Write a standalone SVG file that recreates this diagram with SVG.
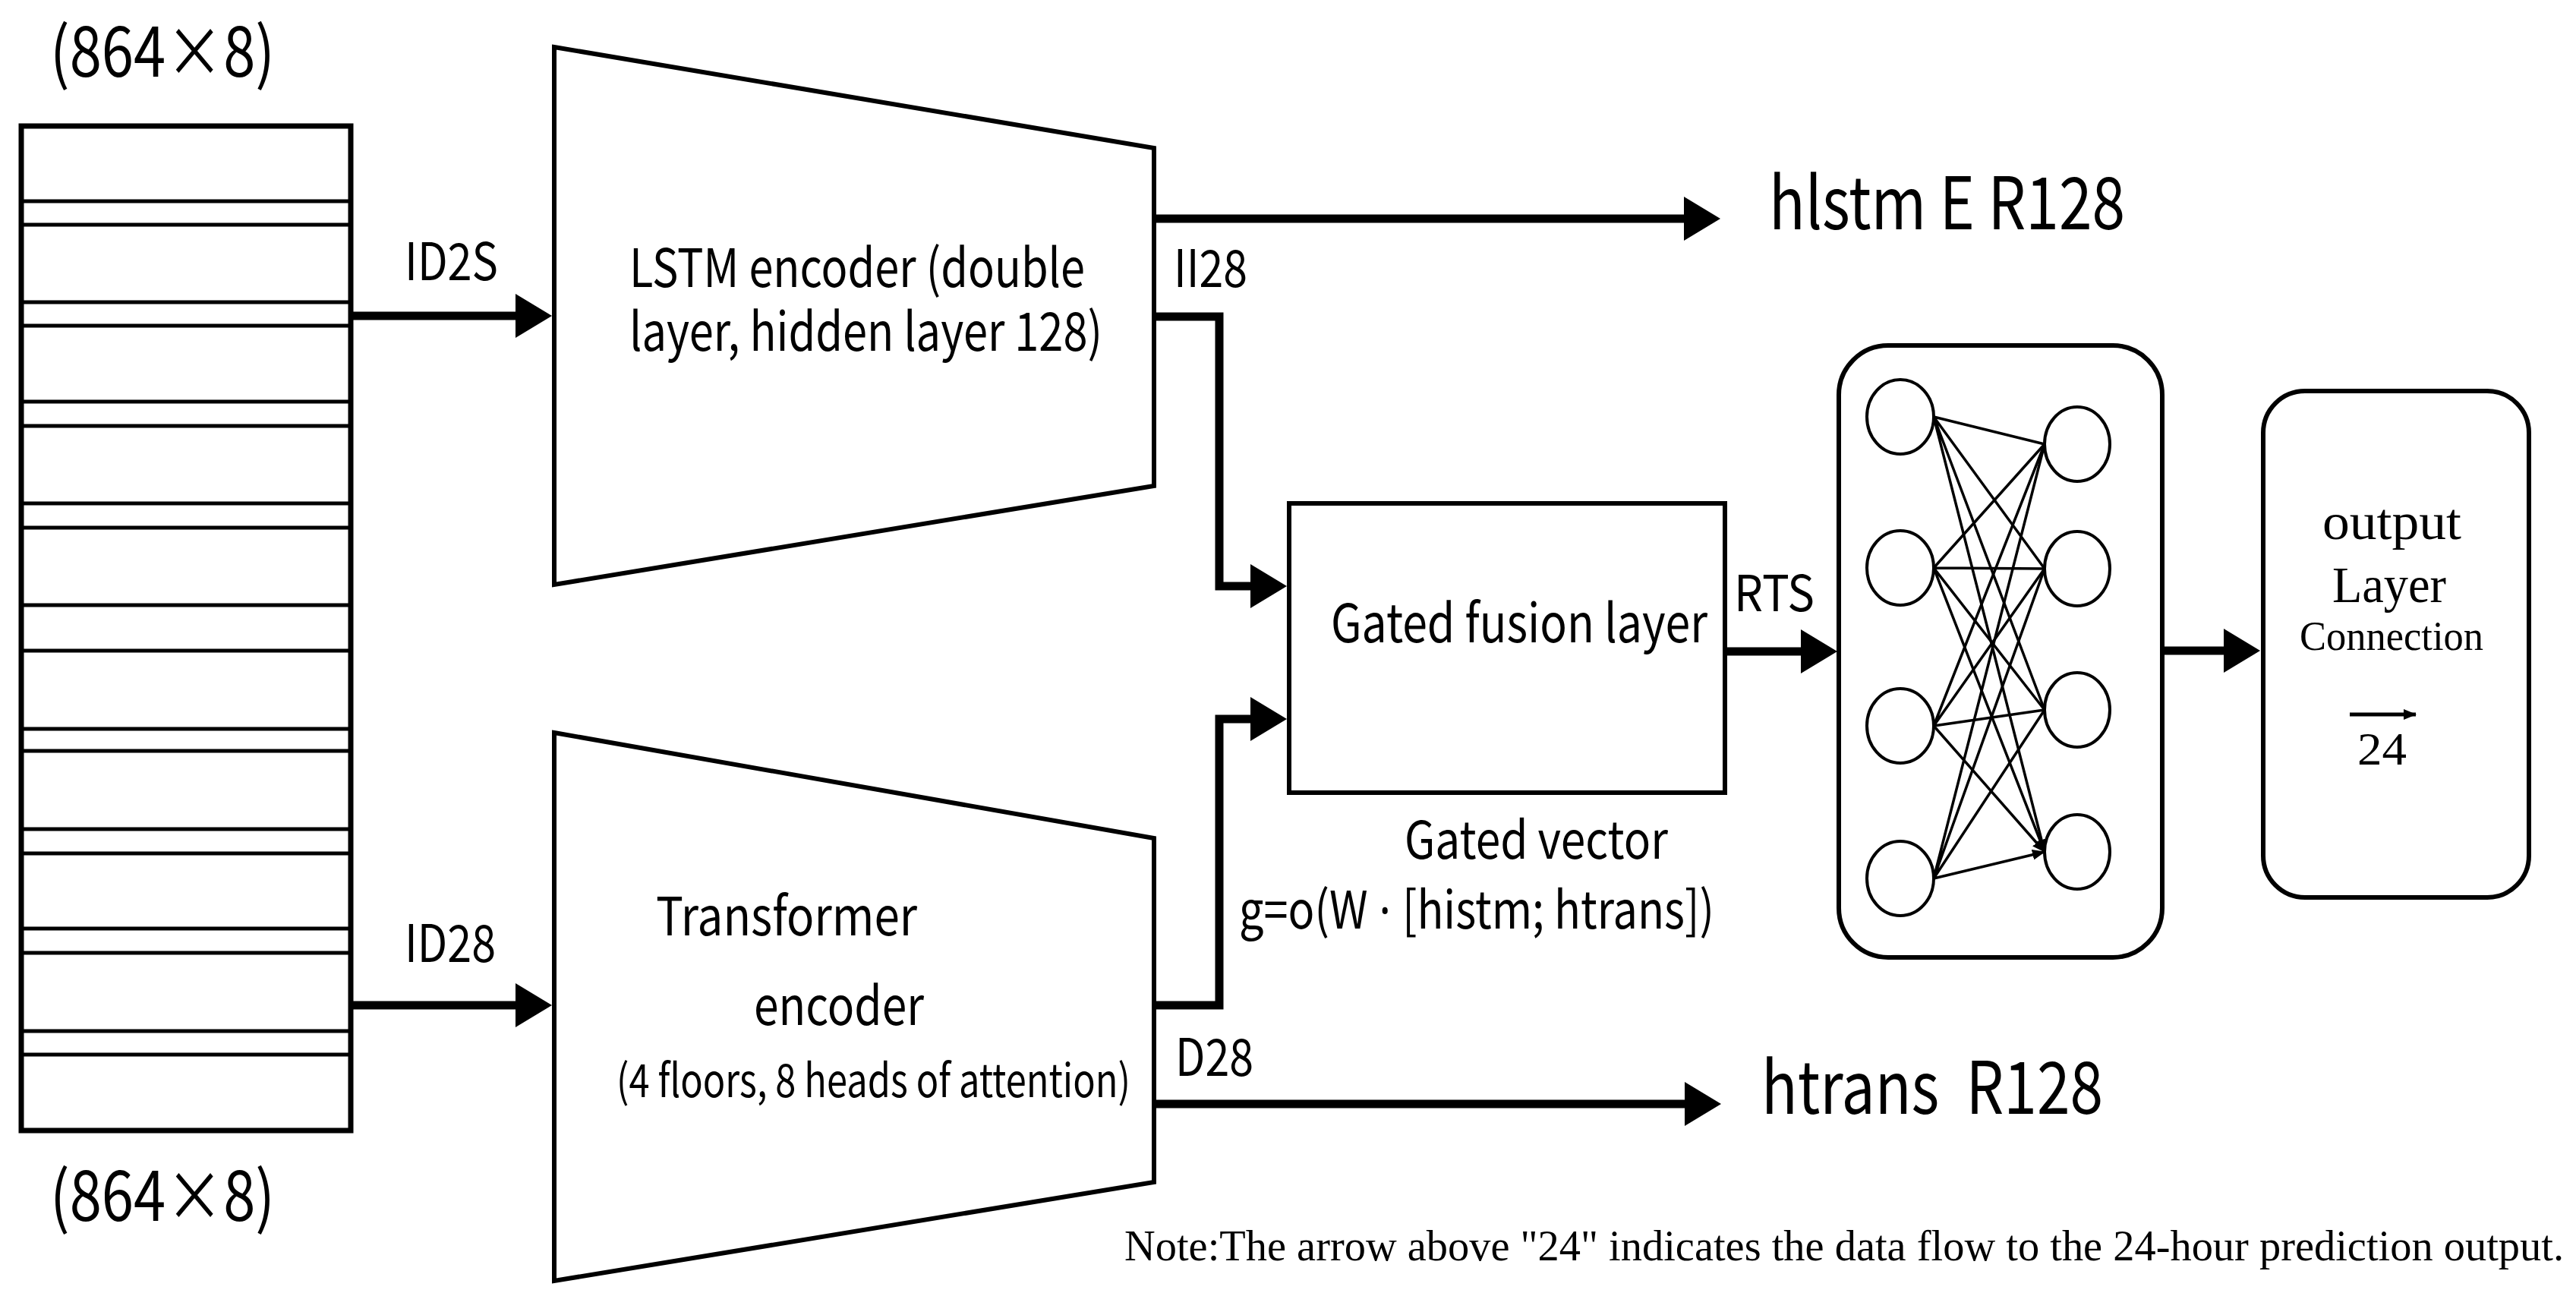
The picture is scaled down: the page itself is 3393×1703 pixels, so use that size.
<svg xmlns="http://www.w3.org/2000/svg" width="3393" height="1703" viewBox="0 0 3393 1703">
<defs>
<style>
.sans{font-family:"Noto Sans CJK SC","Noto Sans",sans-serif;fill:#000}
.lat{font-family:"Noto Sans","DejaVu Sans",sans-serif}
.serif{font-family:"Liberation Serif","DejaVu Serif",serif;fill:#000}
.shape{fill:#fff;stroke:#000;stroke-width:6}
.stk{fill:none;stroke:#000;stroke-width:5}
.conn{fill:none;stroke:#000;stroke-width:11}
.edge{fill:none;stroke:#000;stroke-width:3.5}
.node{fill:#fff;stroke:#000;stroke-width:4}
</style>
<marker id="ah" markerUnits="userSpaceOnUse" markerWidth="50" markerHeight="60" refX="2" refY="29" orient="auto">
<path d="M0,0 L48,29 L0,58 z" fill="#000"/>
</marker>
<marker id="sh" markerUnits="userSpaceOnUse" markerWidth="18" markerHeight="14" refX="16" refY="7" orient="auto">
<path d="M0,0 L17,7 L0,14 z" fill="#000"/>
</marker>
</defs>
<rect width="3393" height="1703" fill="#fff"/>

<g id="input-matrix">
<text class="sans" x="66" y="101" font-size="90" textLength="296" lengthAdjust="spacingAndGlyphs">(864×8)</text>
<rect x="28" y="166" width="434" height="1323" fill="#fff" stroke="#000" stroke-width="7"/>
<path class="stk" d="M28,265H462M28,296H462M28,398H462M28,429H462M28,529H462M28,561H462M28,663H462M28,695H462M28,797H462M28,857H462M28,960H462M28,989H462M28,1092H462M28,1124H462M28,1223H462M28,1255H462M28,1358H462M28,1389H462"/>
<text class="sans" x="66" y="1608" font-size="90" textLength="296" lengthAdjust="spacingAndGlyphs">(864×8)</text>
</g>

<g id="lstm-encoder">
<polygon class="shape" points="730,62 1520,195 1520,640 730,770"/>
<text class="sans" x="829" y="378" font-size="70" textLength="600" lengthAdjust="spacingAndGlyphs">LSTM encoder (double</text>
<text class="sans" x="829" y="462" font-size="70" textLength="623" lengthAdjust="spacingAndGlyphs">layer, hidden layer 128)</text>
</g>

<g id="transformer-encoder">
<polygon class="shape" points="730,965 1520,1104 1520,1557 730,1687"/>
<text class="sans" x="864" y="1232" font-size="70" textLength="344" lengthAdjust="spacingAndGlyphs">Transformer</text>
<text class="sans" x="993" y="1350" font-size="70" textLength="224" lengthAdjust="spacingAndGlyphs">encoder</text>
<text class="sans" x="812" y="1445" font-size="60" textLength="677" lengthAdjust="spacingAndGlyphs">(4 floors, 8 heads of attention)</text>
</g>

<g id="gated-fusion">
<rect class="shape" x="1698" y="663" width="574" height="381"/>
<text class="sans" x="1753" y="846" font-size="70" textLength="496" lengthAdjust="spacingAndGlyphs">Gated fusion layer</text>
<text class="sans" x="1850" y="1131" font-size="68" textLength="347" lengthAdjust="spacingAndGlyphs">Gated vector</text>
<text class="sans" x="1632" y="1223" font-size="68" textLength="626" lengthAdjust="spacingAndGlyphs">g=o(W<tspan class="lat"> · </tspan>[histm; htrans])</text>
</g>

<g id="hidden-network">
<rect class="shape" x="2422" y="455" width="426" height="806" rx="65" ry="65"/>
<g class="edges">
<path class="edge" marker-end="url(#sh)" d="M2547,549L2693,585M2547,549L2693,749M2547,549L2693,935M2547,549L2693,1122"/>
<path class="edge" marker-end="url(#sh)" d="M2547,748L2693,585M2547,748L2693,749M2547,748L2693,935M2547,748L2693,1122"/>
<path class="edge" marker-end="url(#sh)" d="M2547,956L2693,585M2547,956L2693,749M2547,956L2693,935M2547,956L2693,1122"/>
<path class="edge" marker-end="url(#sh)" d="M2547,1157L2693,585M2547,1157L2693,749M2547,1157L2693,935M2547,1157L2693,1122"/>
</g>
<ellipse class="node" cx="2503" cy="549" rx="44" ry="49"/>
<ellipse class="node" cx="2503" cy="748" rx="44" ry="49"/>
<ellipse class="node" cx="2503" cy="956" rx="44" ry="49"/>
<ellipse class="node" cx="2503" cy="1157" rx="44" ry="49"/>
<ellipse class="node" cx="2736" cy="585" rx="43" ry="49"/>
<ellipse class="node" cx="2736" cy="749" rx="43" ry="49"/>
<ellipse class="node" cx="2736" cy="935" rx="43" ry="49"/>
<ellipse class="node" cx="2736" cy="1122" rx="43" ry="49"/>
</g>

<g id="output-layer">
<rect class="shape" x="2981" y="515" width="350" height="667" rx="55" ry="55"/>
<text class="serif" x="3059" y="710" font-size="68" textLength="183" lengthAdjust="spacingAndGlyphs">output</text>
<text class="serif" x="3072" y="793" font-size="68" textLength="150" lengthAdjust="spacingAndGlyphs">Layer</text>
<text class="serif" x="3029" y="856" font-size="54" textLength="242" lengthAdjust="spacingAndGlyphs">Connection</text>
<line x1="3095" y1="941" x2="3182" y2="941" stroke="#000" stroke-width="5" marker-end="url(#sh)"/>
<text class="serif" x="3105" y="1007" font-size="62" textLength="65" lengthAdjust="spacingAndGlyphs">24</text>
</g>

<g id="connectors">
<path class="conn" d="M462,416H681" marker-end="url(#ah)"/>
<path class="conn" d="M462,1324H681" marker-end="url(#ah)"/>
<path class="conn" d="M1520,288H2220" marker-end="url(#ah)"/>
<path class="conn" d="M1520,417H1606V772H1649" marker-end="url(#ah)"/>
<path class="conn" d="M1520,1324H1606V947H1649" marker-end="url(#ah)"/>
<path class="conn" d="M1520,1454H2221" marker-end="url(#ah)"/>
<path class="conn" d="M2272,858H2374" marker-end="url(#ah)"/>
<path class="conn" d="M2848,857H2931" marker-end="url(#ah)"/>
</g>

<g id="labels">
<text class="sans" x="533" y="369" font-size="68" textLength="123" lengthAdjust="spacingAndGlyphs">ID2S</text>
<text class="sans" x="533" y="1267" font-size="68" textLength="120" lengthAdjust="spacingAndGlyphs">ID28</text>
<text class="sans" x="1546" y="378" font-size="68" textLength="97" lengthAdjust="spacingAndGlyphs">II28</text>
<text class="sans" x="1548" y="1417" font-size="68" textLength="103" lengthAdjust="spacingAndGlyphs">D28</text>
<text class="sans" x="2284" y="805" font-size="66" textLength="106" lengthAdjust="spacingAndGlyphs">RTS</text>
<text class="sans" x="2330" y="302" font-size="95" textLength="469" lengthAdjust="spacingAndGlyphs">hlstm E R128</text>
<text class="sans" x="2320" y="1467" font-size="95" textLength="450" lengthAdjust="spacingAndGlyphs" xml:space="preserve">htrans  R128</text>
</g>

<text class="serif" x="1481" y="1660" font-size="56" textLength="1896" lengthAdjust="spacingAndGlyphs">Note:The arrow above "24" indicates the data flow to the 24-hour prediction output.</text>
</svg>
